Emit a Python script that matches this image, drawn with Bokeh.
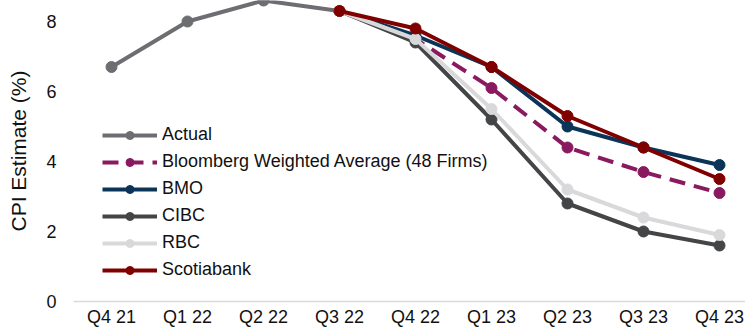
import math
from bokeh.plotting import figure
from bokeh.models import FixedTicker, Legend, LegendItem, ColumnDataSource, Range1d
from bokeh.embed import file_html
from bokeh.resources import INLINE

categories = ["Q4 21", "Q1 22", "Q2 22", "Q3 22", "Q4 22", "Q1 23", "Q2 23", "Q3 23", "Q4 23"]
actual = [6.7, 8.0, 8.6, 8.3, None, None, None, None, None]
bloomberg = [None, None, None, 8.3, 7.5, 6.1, 4.4, 3.7, 3.1]
bmo = [None, None, None, 8.3, 7.6, 6.7, 5.0, 4.4, 3.9]
cibc = [None, None, None, 8.3, 7.4, 5.2, 2.8, 2.0, 1.6]
rbc = [None, None, None, 8.3, 7.5, 5.5, 3.2, 2.4, 1.9]
scotiabank = [None, None, None, 8.3, 7.8, 6.7, 5.3, 4.4, 3.5]
y_ticks = [0, 2, 4, 6, 8]

series = [
    ("Actual", actual, "#6d6e71", "solid"),
    ("Bloomberg Weighted Average (48 Firms)", bloomberg, "#8a1a60", "16 9"),
    ("BMO", bmo, "#0b3558", "solid"),
    ("CIBC", cibc, "#444547", "solid"),
    ("RBC", rbc, "#d9d9db", "solid"),
    ("Scotiabank", scotiabank, "#800000", "solid"),
]

FONT = "Liberation Sans"

p = figure(width=745, height=329, output_backend="svg", toolbar_location=None,
           x_range=Range1d(-0.5, 8.342), y_range=Range1d(0, 8.6),
           min_border_left=73, min_border_right=0, min_border_top=0, min_border_bottom=28)
p.outline_line_color = None
p.xgrid.grid_line_color = None
p.ygrid.grid_line_color = None

xs = list(range(len(categories)))
items = []
for name, vals, color, dash in series:
    yv = [float("nan") if v is None else v for v in vals]
    src = ColumnDataSource(dict(x=xs, y=yv))
    lr = p.line("x", "y", source=src, line_color=color, line_width=4, line_dash=dash)
    sr = p.scatter("x", "y", source=src, size=11, fill_color=color, line_color=color, marker="circle")
    items.append(LegendItem(label=name, renderers=[lr, sr]))

legend = Legend(items=items, location=(29, 21), padding=0, margin=0, spacing=6,
                glyph_width=55, glyph_height=20, label_height=20, label_standoff=5,
                border_line_color=None, background_fill_alpha=0,
                label_text_font=FONT, label_text_font_size="18px", label_text_color="#111111")
p.add_layout(legend, "center")

p.xaxis.ticker = FixedTicker(ticks=xs)
p.xaxis.major_label_overrides = {i: c for i, c in enumerate(categories)}
p.xaxis.axis_line_color = "#d9d9d9"
p.xaxis.axis_line_width = 1.5
p.xaxis.major_tick_line_color = None
p.xaxis.minor_tick_line_color = None
p.xaxis.major_tick_out = 0
p.xaxis.major_tick_in = 0
p.xaxis.minor_tick_out = 0
p.xaxis.minor_tick_in = 0
p.xaxis.major_label_standoff = 5
p.xaxis.major_label_text_font = FONT
p.xaxis.major_label_text_font_size = "18px"
p.xaxis.major_label_text_color = "#111111"

p.yaxis.ticker = FixedTicker(ticks=y_ticks)
p.yaxis.axis_line_color = None
p.yaxis.major_tick_line_color = None
p.yaxis.minor_tick_line_color = None
p.yaxis.major_tick_out = 0
p.yaxis.major_tick_in = 0
p.yaxis.minor_tick_out = 0
p.yaxis.minor_tick_in = 0
p.yaxis.major_label_standoff = 17
p.yaxis.major_label_text_font = FONT
p.yaxis.major_label_text_font_size = "18px"
p.yaxis.major_label_text_color = "#111111"
p.yaxis.axis_label = "CPI Estimate (%)"
p.yaxis.axis_label_text_font = FONT
p.yaxis.axis_label_text_font_size = "21px"
p.yaxis.axis_label_text_font_style = "normal"
p.yaxis.axis_label_text_color = "#111111"
p.yaxis.axis_label_standoff = 13

open("out.html", "w").write(file_html(p, INLINE))
